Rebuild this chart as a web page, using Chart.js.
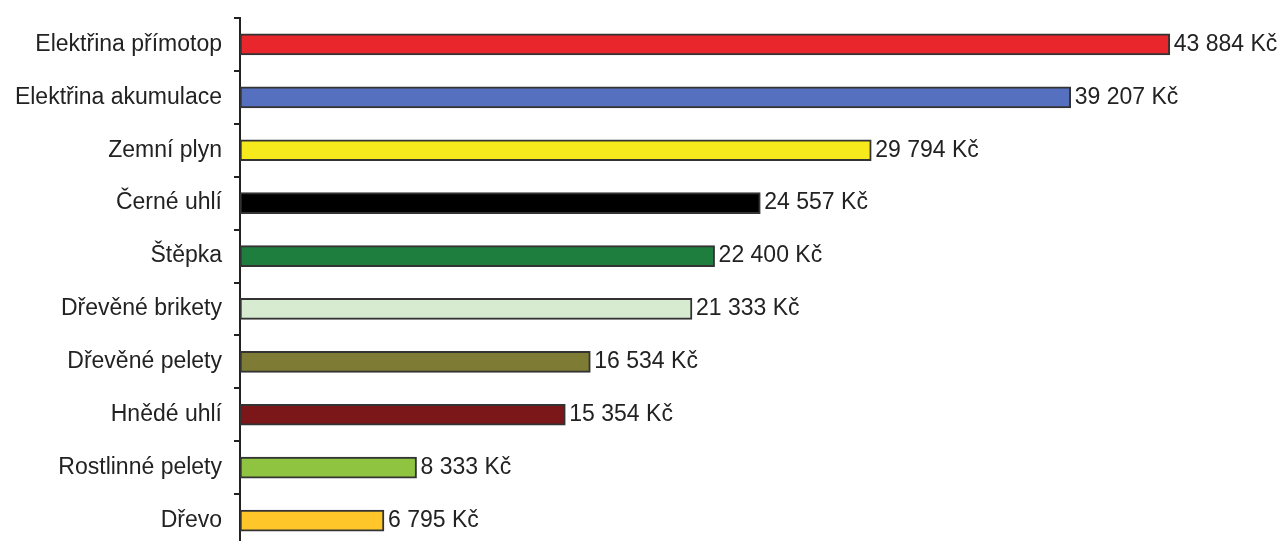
<!DOCTYPE html>
<html lang="cs">
<head>
  <meta charset="UTF-8" />
  <title>Náklady na vytápění</title>
  <script src="https://cdn.jsdelivr.net/npm/chart.js"></script>
  <style>
    html, body { margin: 0; padding: 0; background: #fff; overflow: hidden; }
    #wrap { width: 1282px; height: 547px; }
  </style>
</head>
<body>
  <div id="wrap"><canvas id="myChart"></canvas></div>

  <script>
    // kategorie a roční náklady (Kč)
    const categories = [
      'Elektřina přímotop', 'Elektřina akumulace', 'Zemní plyn', 'Černé uhlí', 'Štěpka',
      'Dřevěné brikety', 'Dřevěné pelety', 'Hnědé uhlí', 'Rostlinné pelety', 'Dřevo'
    ];
    const costs = [43884, 39207, 29794, 24557, 22400, 21333, 16534, 15354, 8333, 6795];
    const barColors = [
      '#e8262c', '#5470bf', '#f6ea1c', '#000000', '#1e7e3e',
      '#d6ebd0', '#7e7b34', '#7b1719', '#8fc440', '#ffc62a'
    ];

    const fmt = v => String(v).replace(/\B(?=(\d{3})+(?!\d))/g, ' ') + ' Kč';
    const FONT = '"Liberation Sans", Arial, sans-serif';

    // popisky hodnot vpravo od sloupců
    const valueLabels = {
      id: 'valueLabels',
      afterDatasetsDraw(chart) {
        const ctx = chart.ctx;
        const meta = chart.getDatasetMeta(0);
        ctx.save();
        ctx.font = '23px ' + FONT;
        ctx.fillStyle = '#222';
        ctx.textBaseline = 'middle';
        ctx.textAlign = 'left';
        meta.data.forEach((bar, i) => {
          ctx.fillText(fmt(costs[i]), bar.x + 4, bar.y);
        });
        ctx.restore();
      }
    };

    new Chart(document.getElementById('myChart'), {
      type: 'bar',
      data: {
        labels: categories,
        datasets: [{
          data: costs,
          backgroundColor: barColors,
          borderColor: '#333',
          borderWidth: 2,
          borderSkipped: false,
          barThickness: 21
        }]
      },
      options: {
        indexAxis: 'y',
        responsive: true,
        maintainAspectRatio: false,
        animation: false,
        layout: { padding: { top: 18, right: 25, bottom: 0, left: 0 } },
        scales: {
          x: { display: false, min: 0, max: 48000 },
          y: {
            afterFit(scale) {
              scale.width = 240;
              scale.paddingTop = 0;
              scale.paddingBottom = 0;
            },
            border: { display: true, color: '#222', width: 2 },
            grid: { drawOnChartArea: false, drawTicks: true, tickLength: 6, color: '#222', lineWidth: 2, offset: true },
            ticks: { color: '#222', font: { size: 23, family: FONT }, padding: 12 }
          }
        },
        plugins: {
          legend: { display: false },
          tooltip: { enabled: false }
        }
      },
      plugins: [valueLabels]
    });
  </script>
</body>
</html>
